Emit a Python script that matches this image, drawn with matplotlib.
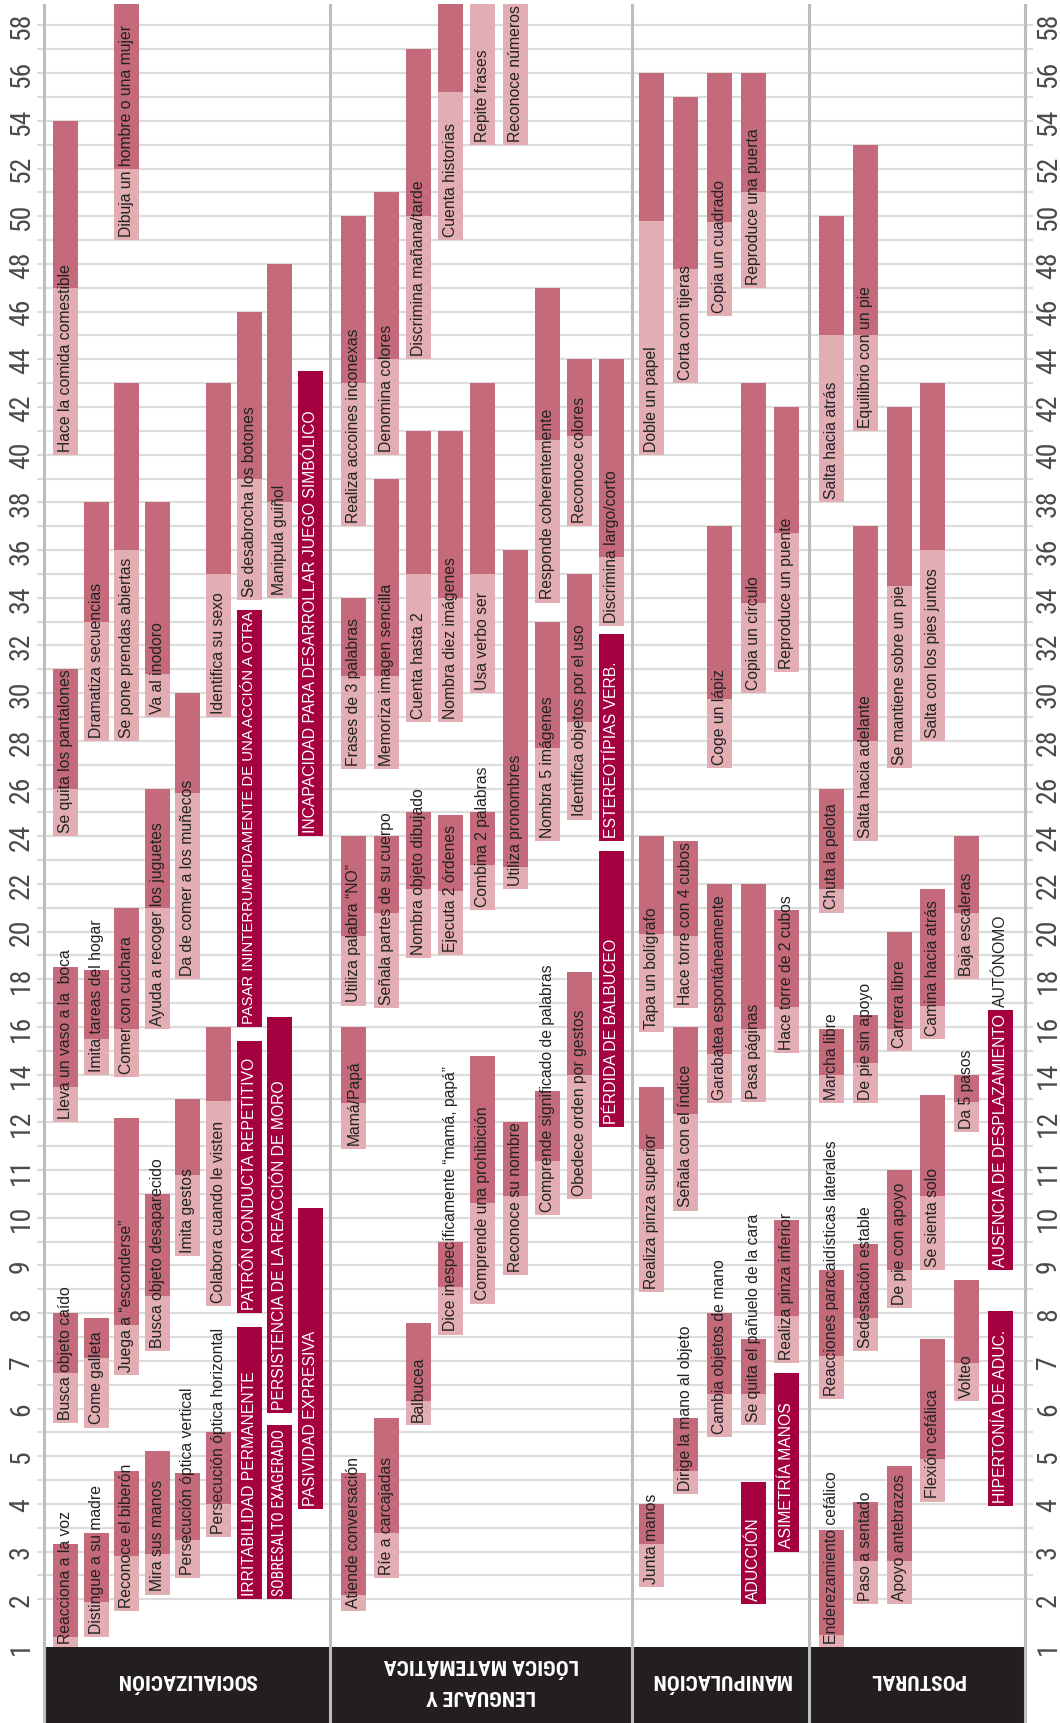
import numpy as np
import matplotlib
matplotlib.use("Agg")
import matplotlib.pyplot as plt
from matplotlib import font_manager
from matplotlib.ticker import NullLocator

# --- datos: (hito, columna, inicio, cambio de tono, fin) en meses ---
socializacion = [
    ("Reacciona a la voz", 0, 1, 1.2, 3.15),
    ("Busca objeto caído", 0, 5.7, 6.75, 8),
    ("Lleva un vaso a la  boca", 0, 12, 13.5, 18.5),
    ("Se quita los pantalones", 0, 24, 26, 31),
    ("Hace la comida comestible", 0, 40, 47, 54),
    ("Distingue a su madre", 1, 1.2, 1.95, 3.4),
    ("Come galleta", 1, 5.6, 7.05, 7.9),
    ("Imita tareas del hogar", 1, 14, 15.5, 18.4),
    ("Dramatiza secuencias", 1, 28, 33, 38),
    ("Reconoce el biberón", 2, 1.75, 2.9, 4.7),
    ("Juega a “esconderse”", 2, 6.7, 7.75, 12.2),
    ("Comer con cuchara", 2, 13.9, 15.9, 21),
    ("Se pone prendas abiertas", 2, 28, 36, 43),
    ("Dibuja un hombre o una mujer", 2, 49, 52, 59),
    ("Mira sus manos", 3, 2.1, 2.95, 5.1),
    ("Busca objeto desaparecido", 3, 7.2, 8.35, 10.5),
    ("Ayuda a recoger los juguetes", 3, 15.9, 21, 26),
    ("Va al inodoro", 3, 29, 30.8, 38),
    ("Persecución óptica vertical", 4, 2.45, 3.25, 4.65),
    ("Imita gestos", 4, 9.2, 10.9, 13),
    ("Da de comer a los muñecos", 4, 18, 25.8, 30),
    ("Persecución óptica horizontal", 5, 3.3, 4, 5.5),
    ("Colabora cuando le visten", 5, 8.15, 12.9, 16),
    ("Identifica su sexo", 5, 29, 35, 43),
    ("Se desabrocha los botones", 6, 33.9, 39, 46),
    ("Manipula guiñol", 7, 34, 38, 48),
]
socializacion_alertas = [
    ("IRRITABILIDAD PERMANENTE", 6, 2, 7.7),
    ("PATRÓN CONDUCTA REPETITIVO", 6, 8, 15.4),
    ("PASAR ININTERRUMPIDAMENTE DE UNA ACCIÓN A OTRA", 6, 16, 33.5),
    ("SOBRESALTO EXAGERADO", 7, 2, 5.65),
    ("PERSISTENCIA DE LA REACCIÓN DE MORO", 7, 5.9, 16.4),
    ("PASIVIDAD EXPRESIVA", 8, 3.9, 10.2),
    ("INCAPACIDAD PARA DESARROLLAR JUEGO SIMBÓLICO", 8, 24, 43.5),
]

lenguaje = [
    ("Atiende conversación", 0, 1.75, 2.1, 4.65),
    ("Mamá/Papá", 0, 11.45, 12.8, 16),
    ("Utiliza palabra “NO”", 0, 16.9, 19.8, 24),
    ("Frases de 3 palabras", 0, 26.8, 30.7, 34),
    ("Realiza accoines inconexas", 0, 37, 43, 50),
    ("Ríe a carcajadas", 1, 2.45, 3.4, 5.8),
    ("Señala partes de su cuerpo", 1, 16.8, 20.8, 24),
    ("Memoriza imagen sencilla", 1, 26.8, 30.7, 39),
    ("Denomina colores", 1, 40, 44, 51),
    ("Balbucea", 2, 5.65, 6.15, 7.8),
    ("Nombra objeto dibujado", 2, 18.9, 21.8, 25),
    ("Cuenta hasta 2", 2, 28.8, 35, 41),
    ("Discrimina mañana/tarde", 2, 44, 50, 57),
    ("Dice inespecíficamente “mamá, papá”", 3, 7.55, 8.55, 9.5),
    ("Ejecuta 2 órdenes", 3, 19, 21.7, 24.9),
    ("Nombra diez imágenes", 3, 28.8, 34, 41),
    ("Cuenta historias", 3, 49, 55.2, 59),
    ("Comprende una prohibición", 4, 8.2, 10.3, 14.8),
    ("Combina 2 palabras", 4, 20.9, 22.8, 25),
    ("Usa verbo ser", 4, 30, 35, 43),
    ("Repite frases", 4, 53, 59, 59),
    ("Reconoce su nombre", 5, 8.8, 10.45, 12),
    ("Utiliza pronombres", 5, 21.8, 22.7, 36),
    ("Reconoce números", 5, 53, 59, 59),
    ("Comprende significado de palabras", 6, 10.05, 11.2, 13.3),
    ("Nombra 5 imágenes", 6, 23.8, 27.7, 33),
    ("Responde coherentemente", 6, 33.8, 40.6, 47),
    ("Obedece orden por gestos", 7, 10.4, 14, 18.3),
    ("Identifica objetos por el uso", 7, 24.7, 28.8, 35),
    ("Reconoce colores", 7, 37, 40.8, 44),
    ("Discrimina largo/corto", 8, 32.8, 35.7, 44),
]
lenguaje_alertas = [
    ("PÉRDIDA DE BALBUCEO", 8, 11.9, 23.4),
    ("ESTEREOTÍPIAS VERB.", 8, 23.8, 32.5),
]

manipulacion = [
    ("Junta manos", 0, 2.25, 3.15, 4),
    ("Realiza pinza superior", 0, 8.45, 11.45, 13.5),
    ("Tapa un bolígrafo", 0, 15.8, 19.9, 24),
    ("Doble un papel", 0, 40, 49.8, 56),
    ("Dirige la mano al objeto", 1, 4.2, 4.7, 5.8),
    ("Señala con el índice", 1, 10.15, 12.35, 16),
    ("Hace torre con 4 cubos", 1, 16.8, 19.8, 23.8),
    ("Corta con tijeras", 1, 43, 47.8, 55),
    ("Cambia objetos de mano", 2, 5.4, 6.3, 8),
    ("Garabatea espontáneamente", 2, 12.8, 14.85, 22),
    ("Coge un lápiz", 2, 26.85, 29.75, 37),
    ("Copia un cuadrado", 2, 45.8, 49.75, 56),
    ("Se quita el pañuelo de la cara", 3, 5.65, 6.3, 7.45),
    ("Pasa páginas", 3, 12.85, 15.9, 22),
    ("Copia un círculo", 3, 30, 33.8, 43),
    ("Reproduce una puerta", 3, 47, 51, 56),
    ("Realiza pinza inferior", 4, 6.95, 7.95, 9.95),
    ("Hace torre de 2 cubos", 4, 14.9, 16.85, 20.9),
    ("Reproduce un puente", 4, 30.9, 36.7, 42),
]
manipulacion_alertas = [
    ("ADUCCIÓN", 3, 1.9, 4.45),
    ("ASIMETRÍA MANOS", 4, 3, 6.75),
]

postural = [
    ("Enderezamiento cefálico", 0, 1, 1.25, 3.45),
    ("Reacciones paracaidísticas laterales", 0, 6.2, 7.1, 8.9),
    ("Marcha libre", 0, 12.8, 14, 15.9),
    ("Chuta la pelota", 0, 20.8, 21.8, 26),
    ("Salta hacia atrás", 0, 38, 45, 50),
    ("Paso a sentado", 1, 1.9, 2.8, 4.05),
    ("Sedestación estable", 1, 7.2, 7.9, 9.45),
    ("De pie sin apoyo", 1, 12.8, 14.5, 16.5),
    ("Salta hacia adelante", 1, 23.8, 28, 37),
    ("Equilibrio con un pie", 1, 41, 45, 53),
    ("Apoyo antebrazos", 2, 1.9, 2.8, 4.8),
    ("De pie con apoyo", 2, 8.1, 8.9, 11),
    ("Carrera libre", 2, 15, 15.9, 20),
    ("Se mantiene sobre un pie", 2, 26.85, 34.5, 42),
    ("Flexión cefálica", 3, 4.05, 4.95, 7.45),
    ("Se sienta solo", 3, 8.9, 10.45, 13.15),
    ("Camina hacia atrás", 3, 15.5, 16.9, 21.8),
    ("Salta con los pies juntos", 3, 28, 36, 43),
    ("Volteo", 4, 6.15, 6.95, 8.7),
    ("Da 5 pasos", 4, 11.8, 12.85, 14),
    ("Baja escaleras", 4, 18, 20.8, 24),
]
postural_alertas = [
    ("HIPERTONÍA DE ADUC.", 5, 3.95, 8.05),
    ("AUSENCIA DE DESPLAZAMIENTO", 5, 8.9, 16.7),
]
postural_alerta_resto = "AUTÓNOMO"

areas = ["SOCIALIZACIÓN", "LENGUAJE Y\nLÓGICA MATEMÁTICA", "MANIPULACIÓN", "POSTURAL"]
meses_ticks = list(range(1, 13)) + list(range(14, 59, 2))

# --- estilo ---
W, H, DPI = 1060, 1724, 100
CLARO = "#e2adb3"
OSCURO = "#c46a7a"
ALERTA = "#a5003f"
NEGRO = "#231f20"
REJILLA = "#dcdcdc"
LINEA = "#bcbdc1"
TEXTO = "#222222"
SANS = ["Liberation Sans", "DejaVu Sans"]
instaladas = {f.name for f in font_manager.fontManager.ttflist}
NARROW = [f for f in ["Liberation Sans Narrow", "Roboto Condensed", "DejaVu Sans Condensed"]
          if f in instaladas] + SANS

# escala: un mes por paso hasta 12, luego dos meses por paso
def fwd(m):
    m = np.asarray(m, dtype=float)
    return np.where(m <= 12, m - 1, 11 + (m - 12) / 2)

def inv(s):
    s = np.asarray(s, dtype=float)
    return np.where(s <= 11, s + 1, 12 + 2 * (s - 11))

X0, X1 = 37, 1033
Y_BASE = 1648  # píxel del mes 1
limites = [44, 330, 632, 809, 1025]
columnas = [(65.5, 30.6), (354, 32.25), (652, 33.75), (831.5, 33.8)]
ANCHO = 25

fig = plt.figure(figsize=(W / DPI, H / DPI), dpi=DPI)
ax = fig.add_axes([X0 / W, (H - Y_BASE) / H, (X1 - X0) / W, (Y_BASE - 5) / H])
ax.set_yscale("function", functions=(fwd, inv))
ax.set_xlim(X0, X1)
ax.set_ylim(1, 58.9)

for m in list(np.arange(2, 12.01, 0.5)) + list(range(13, 59)):
    ax.axhline(m, color=REJILLA, lw=1.6, zorder=0)
for xv in limites:
    ax.axvline(xv, color=LINEA, lw=2.2, zorder=1)

ax.set_yticks(meses_ticks)
ax.set_yticklabels([str(t) for t in meses_ticks])
ax.yaxis.set_minor_locator(NullLocator())
ax.set_xticks([])
ax.tick_params(axis="y", length=0, pad=1.5, labelrotation=90, labelsize=20,
               labelcolor="#4a4a4a", labelleft=True, labelright=True,
               labelfontfamily=NARROW)
for t in ax.yaxis.get_major_ticks():
    t.label1.set_va("center")
    t.label2.set_va("center")
for sp in ax.spines.values():
    sp.set_visible(False)

secciones = [
    (socializacion, socializacion_alertas),
    (lenguaje, lenguaje_alertas),
    (manipulacion, manipulacion_alertas),
    (postural, postural_alertas),
]

textos_alerta = []
for (hitos, alertas), (xa, paso) in zip(secciones, columnas):
    for nombre, col, a, b, c in hitos:
        x = xa + paso * col
        ax.bar(x, b - a, bottom=a, width=ANCHO, color=CLARO, lw=0, zorder=2)
        ax.bar(x, c - b, bottom=b, width=ANCHO, color=OSCURO, lw=0, zorder=2)
        ax.annotate(nombre, (x, a), xytext=(0, 3), textcoords="offset points",
                    rotation=90, ha="center", va="bottom", fontsize=11.3,
                    color=TEXTO, family=SANS, zorder=4, annotation_clip=False)
    for nombre, col, a, c in alertas:
        x = xa + paso * col
        ax.bar(x, c - a, bottom=a, width=ANCHO, color=ALERTA, lw=0, zorder=2)
        t = ax.annotate(nombre, (x, a), xytext=(0, 3), textcoords="offset points",
                        rotation=90, ha="center", va="bottom", fontsize=11.3,
                        color="white", family=SANS, zorder=4)
        textos_alerta.append((t, x, a, c))

# resto del texto de la última alerta postural, fuera de la barra
xa, paso = columnas[3]
_, col_r, _, fin_r = postural_alertas[-1]
ax.annotate(postural_alerta_resto, (xa + paso * col_r, fin_r), xytext=(0, 3),
            textcoords="offset points", rotation=90, ha="center", va="bottom",
            fontsize=11.3, color=TEXTO, family=SANS, zorder=4)

# cabecera negra
hx = fig.add_axes([X0 / W, 0, (X1 - X0) / W, (H - Y_BASE) / H])
hx.set_xlim(X0, X1)
hx.set_ylim(0, 1)
hx.axis("off")
cabeceras = []
for i, nombre in enumerate(areas):
    hx.axvspan(limites[i], limites[i + 1], color=NEGRO, lw=0)
    cabeceras.append(hx.text((limites[i] + limites[i + 1]) / 2, 0.58, nombre,
                             rotation=180, ha="center", va="center", ma="center",
                             color="white", fontsize=17, fontweight="bold",
                             family=NARROW, linespacing=1.75))
for xv in limites:
    hx.axvline(xv, color=LINEA, lw=2.2)

# ajustes de tamaño de texto medidos sobre el render
fig.canvas.draw()
r = fig.canvas.get_renderer()
for t, x, a, c in textos_alerta:
    y0 = ax.transData.transform((x, a))[1]
    y1 = ax.transData.transform((x, c))[1]
    disp = (y1 - y0) - 6
    largo = t.get_window_extent(r).height
    if largo > 1.15 * disp:
        # mucho más larga que la barra: letra estrecha
        t.set_family(NARROW)
        largo = t.get_window_extent(r).height
    if largo > disp:
        t.set_fontsize(t.get_fontsize() * disp / largo)

ancho_ref = cabeceras[0].get_window_extent(r).width
escala = min(1.0, 140 / ancho_ref)
for t in cabeceras:
    t.set_fontsize(t.get_fontsize() * escala)

fig.savefig("out.png", dpi=DPI)
